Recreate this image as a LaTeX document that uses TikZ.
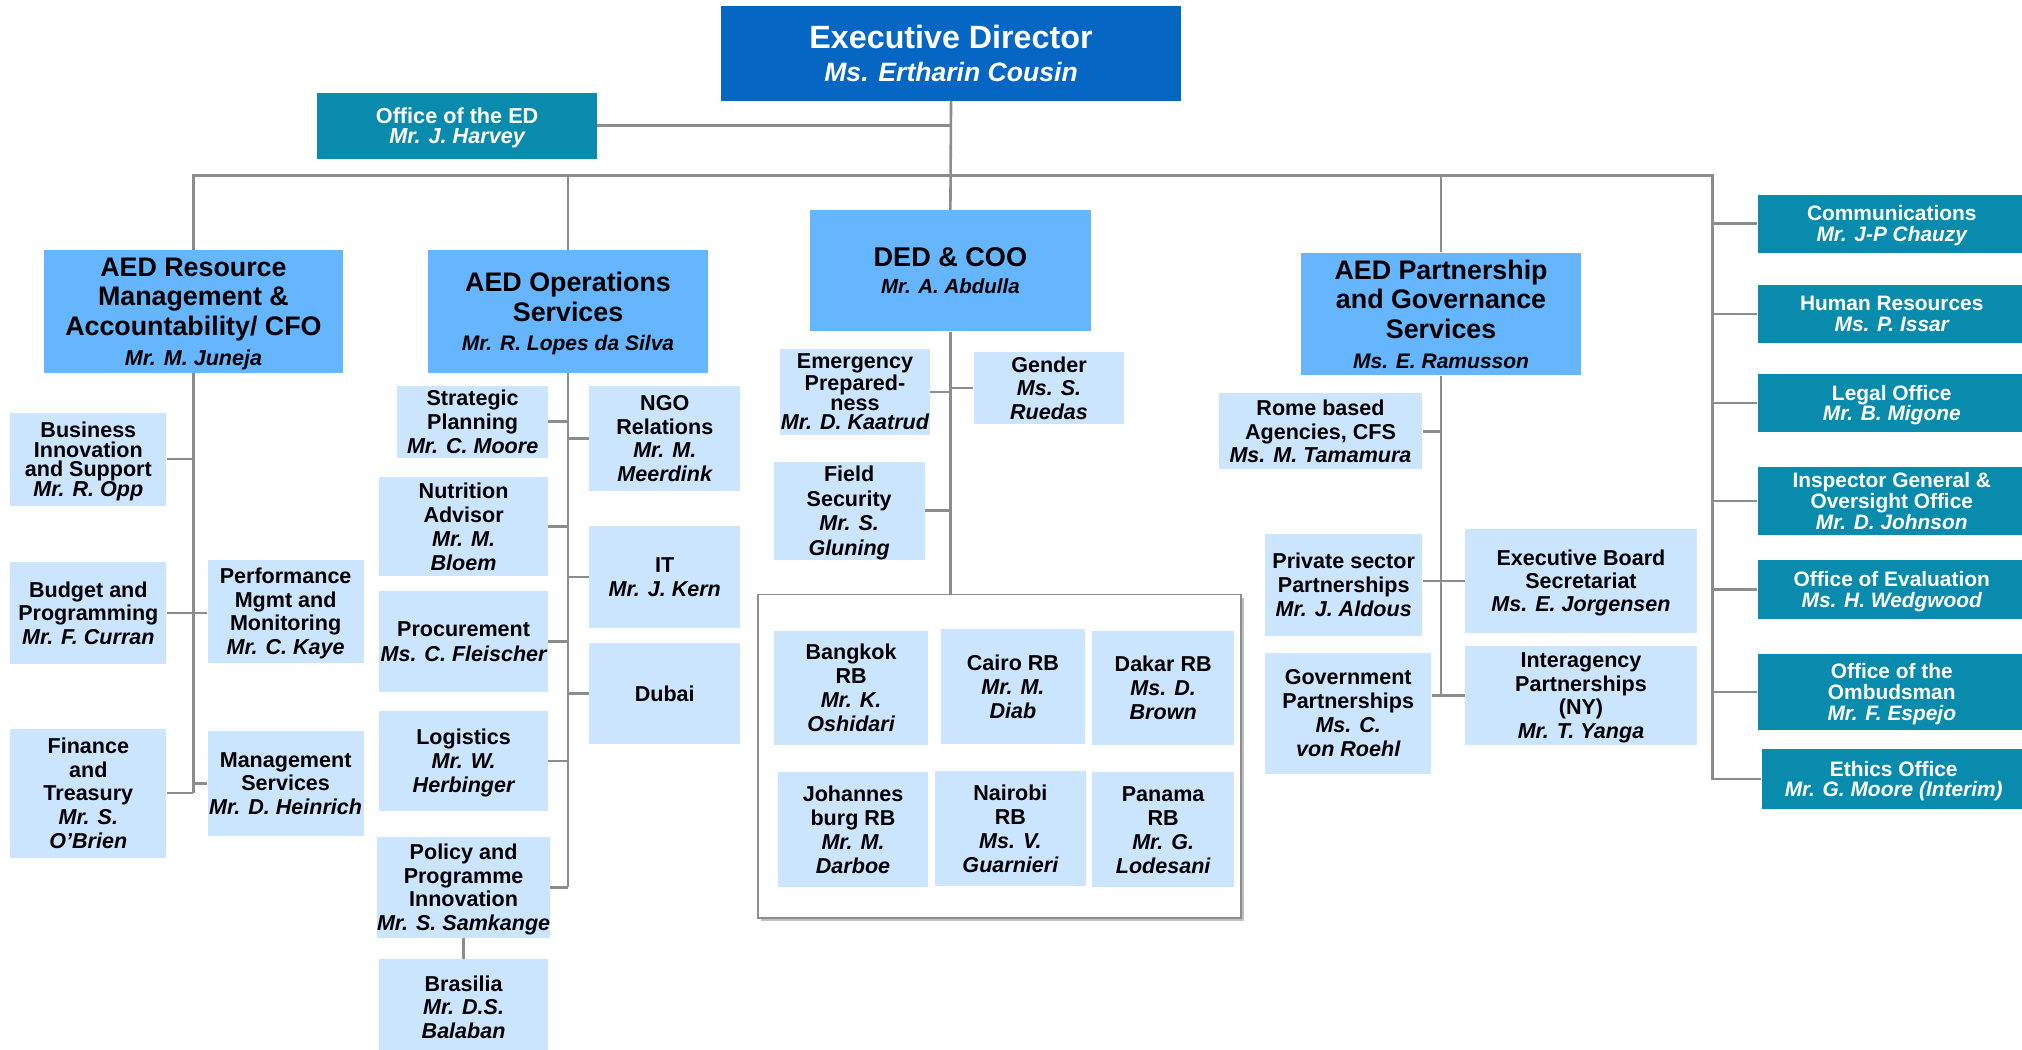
\documentclass[tikz,border=0pt]{standalone}
\usepackage{fontspec}
\setmainfont{Liberation Sans}
\definecolor{edblue}{RGB}{5,102,196}
\definecolor{tealb}{RGB}{9,139,173}
\definecolor{midb}{RGB}{101,181,255}
\definecolor{lightb}{RGB}{204,229,255}
\definecolor{lineg}{RGB}{140,140,140}
\newcommand\fsz[2]{\fontsize{#1pt}{#2pt}\selectfont}
\newcommand\nm{\itshape}
\begin{document}
\begin{tikzpicture}[x=1pt,y=-1pt,
  base/.style={inner sep=0pt, align=center, text depth=0pt},
  fs/.style 2 args={font=\bfseries\fsz{#1}{#2}},
  lb/.style={base, fill=lightb, text=black},
  mb/.style={base, fill=midb, text=black},
  tb/.style={base, fill=tealb, text=white},
  eb/.style={base, fill=edblue, text=white},
  wh/.style 2 args={minimum width=#1pt, minimum height=#2pt},
  conn/.style={draw=lineg, line width=2pt}]
\fill[white] (0,0) rectangle (1568,814);
\useasboundingbox (0,0) rectangle (1568,814);

% top
\node[eb, wh={357}{73}, fs={25}{26}] (ed) at (737.5,41.5) {Executive Director\\\fsz{20.6}{26}\nm Ms. Ertharin Cousin};
\node[tb, wh={217}{51}, fs={16.8}{16}] (oed) at (354.5,97.5) {Office of the ED\\\nm Mr. J. Harvey};

% level 2
\node[mb, wh={232}{95}, fs={20.8}{23}] (res) at (150,241.5) {AED Resource\\Management \&\\Accountability/ CFO\\\fsz{16.7}{22}\nm Mr. M. Juneja};
\node[mb, wh={217}{95}, fs={20.8}{23}] (ops) at (440.5,241.5) {AED Operations\\Services\\\fsz{16.3}{23}\nm Mr. R. Lopes da Silva};
\node[mb, wh={218}{94}, fs={21}{21}] (ded) at (737,210) {DED \& COO\\\fsz{15.9}{21}\nm Mr. A. Abdulla};
\node[mb, wh={217}{95}, fs={20.8}{23}] (aedp) at (1117.5,243.5) {AED Partnership\\and Governance\\Services\\\fsz{16.3}{22}\nm Ms. E. Ramusson};

% right teal column
\node[tb, wh={208}{45}, fs={16.2}{16}] (comm) at (1467,173.5) {Communications\\\nm Mr. J-P Chauzy};
\node[tb, wh={208}{45}, fs={16.2}{16}] (hr) at (1467,243.5) {Human Resources\\\nm Ms. P. Issar};
\node[tb, wh={208}{45}, fs={16.2}{16}] (legal) at (1467,312.5) {Legal Office\\\nm Mr. B. Migone};
\node[tb, wh={208}{53}, fs={16.2}{16}] (insp) at (1467,388.5) {Inspector General \&\\Oversight Office\\\nm Mr. D. Johnson};
\node[tb, wh={208}{46}, fs={16.2}{16}] (eval) at (1467,457) {Office of Evaluation\\\nm Ms. H. Wedgwood};
\node[tb, wh={208}{59}, fs={16.2}{16}] (omb) at (1467,536.5) {Office of the\\Ombudsman\\\nm Mr. F. Espejo};
\node[tb, wh={205}{46}, fs={16.2}{16}] (eth) at (1468.5,604) {Ethics Office\\\nm Mr. G. Moore (Interim)};

% resource children
\node[lb, wh={121}{72}, fs={16.7}{15.3}] (bis) at (68.5,356) {Business\\Innovation\\and Support\\\nm Mr. R. Opp};
\node[lb, wh={121}{79}, fs={16.7}{18}] (bud) at (68.5,475.5) {Budget and\\Programming\\\nm Mr. F. Curran};
\node[lb, wh={121}{100}, fs={16.7}{18.3}] (fin) at (68.5,615) {Finance\\and\\Treasury\\\nm Mr. S.\\\nm O’Brien};
\node[lb, wh={121}{80}, fs={16.7}{18.3}] (perf) at (221.5,474) {Performance\\Mgmt and\\Monitoring\\\nm Mr. C. Kaye};
\node[lb, wh={121}{81}, fs={16.7}{18}] (mgmt) at (221.5,607.5) {Management\\Services\\\nm Mr. D. Heinrich};

% operations children
\node[lb, wh={117}{56}, fs={16.7}{18.5}] (strat) at (366.5,327) {Strategic\\Planning\\\nm Mr. C. Moore};
\node[lb, wh={131}{77}, fs={16.7}{18.7}] (nut) at (359.5,408.5) {Nutrition\\Advisor\\\nm Mr. M.\\\nm Bloem};
\node[lb, wh={131}{79}, fs={16.7}{19}] (proc) at (359.5,497.5) {Procurement\\\nm Ms. C. Fleischer};
\node[lb, wh={131}{78}, fs={16.7}{18.5}] (log) at (359.5,590) {Logistics\\\nm Mr. W.\\\nm Herbinger};
\node[lb, wh={131}{78}, fs={16.7}{18.3}] (pol) at (359.5,688) {Policy and\\Programme\\Innovation\\\nm Mr. S. Samkange};
\node[lb, wh={131}{74}, fs={16.7}{18.5}] (bra) at (359.5,781) {Brasilia\\\nm Mr. D.S.\\\nm Balaban};
\node[lb, wh={117}{82}, fs={16.7}{18.3}] (ngo) at (515.5,340) {NGO\\Relations\\\nm Mr. M.\\\nm Meerdink};
\node[lb, wh={117}{79}, fs={16.7}{18.5}] (it) at (515.5,447.5) {IT\\\nm Mr. J. Kern};
\node[lb, wh={117}{78}, fs={16.7}{18.5}] (dub) at (515.5,538) {Dubai};

% DED children
\node[lb, wh={116}{66}, fs={16.7}{15.3}] (emer) at (663,304) {Emergency\\Prepared-\\ness\\\nm Mr. D. Kaatrud};
\node[lb, wh={117}{56}, fs={16.7}{18}] (gen) at (813.5,301) {Gender\\\nm Ms. S.\\\nm Ruedas};
\node[lb, wh={117}{76}, fs={16.7}{19}] (fsec) at (658.5,396) {Field\\Security\\\nm Mr. S.\\\nm Gluning};
\fill[lineg!55] (590.5,463.5) rectangle (964.5,714.5);
\node[draw=lineg, line width=1.5pt, fill=white, wh={374}{251}, inner sep=0pt] (rb) at (775,586.5) {};
\node[lb, wh={120}{89}, fs={16.7}{18.7}] (bkk) at (660,533.5) {Bangkok\\RB\\\nm Mr. K.\\\nm Oshidari};
\node[lb, wh={111}{89}, fs={16.7}{18.7}] (cai) at (785.5,532.5) {Cairo RB\\\nm Mr. M.\\\nm Diab};
\node[lb, wh={110}{89}, fs={16.7}{18.7}] (dak) at (902,533.5) {Dakar RB\\\nm Ms. D.\\\nm Brown};
\node[lb, wh={117}{89}, fs={16.7}{18.7}] (joh) at (661.5,643.5) {Johannes\\burg RB\\\nm Mr. M.\\\nm Darboe};
\node[lb, wh={117}{89}, fs={16.7}{18.7}] (nai) at (783.5,642.5) {Nairobi\\RB\\\nm Ms. V.\\\nm Guarnieri};
\node[lb, wh={110}{89}, fs={16.7}{18.7}] (pan) at (902,643.5) {Panama\\RB\\\nm Mr. G.\\\nm Lodesani};

% partnership children
\node[lb, wh={158}{59}, fs={16.7}{18}] (rome) at (1024,334.5) {Rome based\\Agencies, CFS\\\nm Ms. M. Tamamura};
\node[lb, wh={122}{79}, fs={16.7}{18.5}] (priv) at (1042,453.5) {Private sector\\Partnerships\\\nm Mr. J. Aldous};
\node[lb, wh={180}{81}, fs={16.7}{18}] (exb) at (1226,450.5) {Executive Board\\Secretariat\\\nm Ms. E. Jorgensen};
\node[lb, wh={129}{94}, fs={16.7}{18.7}] (gov) at (1045.5,553) {Government\\Partnerships\\\nm Ms. C.\\\nm von Roehl};
\node[lb, wh={180}{77}, fs={16.7}{18.3}] (inter) at (1226,539.5) {Interagency\\Partnerships\\(NY)\\\nm Mr. T. Yanga};

% connectors
\coordinate (busL) at (150,136);
\coordinate (busR) at (1328,136);
\draw[conn] (ed.south) -- (ded.north);
\draw[conn] (oed.east) -- (oed.east -| ed.south);
\draw[conn] (res.north) -- (res.north |- busR) -- (busR) -- (busR |- eth.west) -- (eth.west);
\draw[conn] (ops.north) -- (ops.north |- busR);
\draw[conn] (aedp.north) -- (aedp.north |- busR);
\foreach \n in {comm,hr,legal,insp,eval,omb}
  \draw[conn] (\n.west) -- (\n.west -| busR);

\draw[conn] (res.south) -- (res.south |- fin.east);
\draw[conn] (bis.east) -- (bis.east -| res.south);
\draw[conn] (bud.east) -- (bud.east -| perf.west);
\draw[conn] (fin.east) -- (fin.east -| res.south);
\draw[conn] (mgmt.west) -- (mgmt.west -| res.south);

\draw[conn] (ops.south) -- (ops.south |- pol.east);
\foreach \n in {strat,nut,proc,log,pol}
  \draw[conn] (\n.east) -- (\n.east -| ops.south);
\foreach \n in {ngo,it,dub}
  \draw[conn] (\n.west) -- (\n.west -| ops.south);
\draw[conn] (pol.south) -- (bra.north);

\draw[conn] (ded.south) -- (ded.south |- rb.north);
\draw[conn] (emer.east) -- (emer.east -| ded.south);
\draw[conn] (gen.west) -- (gen.west -| ded.south);
\draw[conn] (fsec.east) -- (fsec.east -| ded.south);

\draw[conn] (aedp.south) -- (aedp.south |- inter.west);
\draw[conn] (rome.east) -- (rome.east -| aedp.south);
\draw[conn] (exb.west) -- (exb.west -| priv.east);
\draw[conn] (inter.west) -- (inter.west -| gov.east);
\end{tikzpicture}
\end{document}
